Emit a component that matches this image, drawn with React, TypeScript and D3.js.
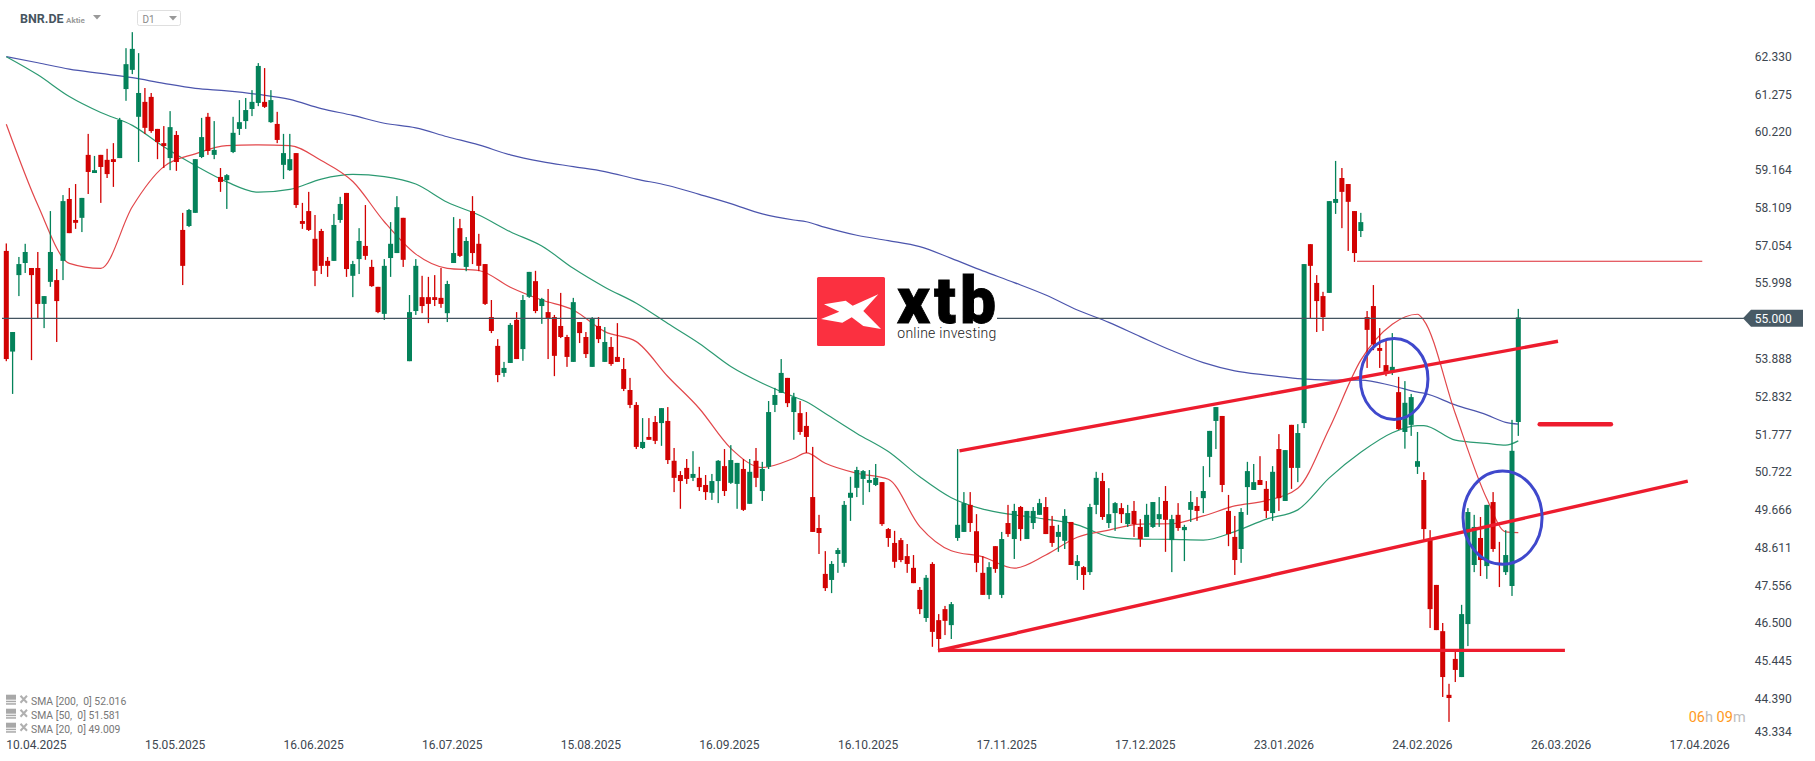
import { useEffect, useRef } from 'react';
import * as d3 from 'd3';

const width = 1815;
const height = 761;

const opens = [
  56.87,54.04,56.19,56.53,56.39,56.39,55.38,56.00,56.05,56.59,
  58.33,57.74,57.80,59.57,59.06,59.57,59.43,59.45,59.48,61.42,
  61.96,60.64,61.06,61.20,60.30,59.90,59.48,60.13,57.46,57.57,
  57.94,59.51,60.64,59.57,58.95,58.86,59.65,60.30,60.52,60.86,
  61.03,61.06,60.49,60.44,59.29,59.14,59.62,57.71,57.99,57.21,
  57.43,56.59,56.59,57.74,58.50,56.17,56.64,57.01,56.42,55.86,
  55.10,56.67,56.81,57.80,53.77,55.18,55.57,55.57,55.57,55.55,
  55.12,56.53,57.51,56.42,57.99,57.07,56.50,55.01,54.20,53.44,
  53.72,54.93,54.11,55.58,56.02,55.32,55.15,55.01,54.76,54.45,
  53.75,54.87,54.45,53.61,54.76,53.75,54.17,53.89,53.55,52.96,
  52.54,51.33,51.64,52.06,52.03,52.09,50.97,50.57,50.77,50.49,
  50.49,50.29,50.07,50.40,50.82,50.35,50.32,50.74,49.76,50.97,
  50.12,50.80,52.54,52.88,53.30,52.34,52.31,51.95,49.95,49.08,
  47.79,47.62,48.35,48.10,49.93,50.21,50.46,50.35,50.29,50.37,
  49.05,48.66,48.74,48.29,47.96,47.34,46.55,48.07,46.49,46.80,
  46.35,48.80,48.97,49.73,48.99,47.82,47.20,48.57,47.20,49.22,
  48.77,49.67,48.77,49.22,49.45,49.67,49.14,48.83,48.72,49.25,
  48.01,47.98,47.84,49.73,50.40,49.22,49.50,49.64,49.19,49.56,
  49.11,48.83,49.11,49.33,49.84,48.74,49.45,49.02,49.59,49.70,
  49.92,51.08,52.09,52.23,49.56,48.83,48.49,50.23,50.15,50.43,
  50.18,49.50,51.30,49.84,51.98,50.77,52.03,57.06,55.97,55.60,
  55.69,58.22,58.92,58.75,57.99,57.43,55.01,55.32,54.14,53.66,
  53.49,52.90,51.78,51.98,50.80,50.43,48.74,47.48,46.18,44.39,
  45.40,44.89,46.38,48.04,48.80,48.01,49.81,48.10,47.84,47.45,
  52.06,
];

const closes = [
  53.83,54.59,56.50,56.84,56.19,55.38,55.60,56.84,55.46,58.27,
  57.37,57.66,58.36,59.09,59.14,59.23,59.03,59.37,60.55,62.12,
  62.55,61.31,60.33,60.24,59.93,59.82,60.35,59.37,56.45,58.02,
  59.45,60.07,59.68,59.71,58.81,59.00,60.19,60.49,60.83,61.06,
  62.07,60.92,61.11,59.99,59.62,59.45,58.16,57.63,57.46,56.31,
  56.45,56.45,57.60,58.19,56.36,56.50,57.15,56.73,55.88,55.15,
  56.45,57.07,58.10,56.62,55.15,56.45,55.32,55.38,55.49,55.38,
  55.94,56.81,56.73,57.15,56.81,56.45,55.38,54.62,53.38,53.58,
  54.79,53.83,55.49,56.28,55.18,55.52,54.98,53.92,54.45,53.89,
  55.43,54.56,53.97,54.98,54.39,54.31,53.69,53.75,52.99,52.54,
  51.36,51.50,51.56,51.53,52.45,50.99,50.49,50.40,50.46,50.60,
  50.23,50.09,50.40,50.97,50.12,50.99,50.91,49.59,50.66,50.49,
  50.74,52.34,52.82,53.44,52.59,52.76,51.78,51.64,48.97,48.94,
  47.39,48.07,48.46,49.73,50.07,50.71,50.68,50.43,50.49,49.19,
  48.80,48.13,48.18,48.07,47.53,46.80,47.68,46.16,45.96,46.47,
  46.94,49.17,49.78,49.22,48.10,47.20,47.98,47.93,48.77,48.91,
  49.56,49.05,49.56,49.56,49.78,48.91,48.66,48.97,49.42,48.04,
  48.15,47.76,49.67,50.49,49.39,49.47,49.78,49.47,49.50,49.19,
  48.77,49.45,49.81,49.47,49.31,49.33,49.08,49.11,49.81,49.56,
  50.12,51.81,52.48,50.29,48.91,48.18,49.53,50.68,50.37,50.29,
  49.56,50.66,49.92,51.27,50.77,51.75,56.50,56.45,55.46,55.01,
  58.27,58.33,58.53,58.25,56.81,57.68,54.65,54.25,54.06,53.44,
  53.61,51.86,52.60,52.76,50.96,49.05,46.80,46.21,44.89,44.30,
  45.09,46.66,49.53,49.11,48.18,49.73,48.49,48.04,48.32,51.25,
  55.00,
];

const highs = [
  57.08,54.59,56.70,57.07,56.39,56.84,55.60,57.99,56.36,58.44,
  58.64,58.75,58.36,60.16,59.54,59.57,59.74,59.90,60.61,62.57,
  63.02,62.43,61.45,61.31,60.30,60.38,60.80,60.24,57.94,58.05,
  59.45,60.61,60.75,60.52,59.20,59.03,60.64,61.11,61.17,61.39,
  62.15,62.01,61.39,60.78,60.16,60.16,59.62,58.22,58.53,57.88,
  57.49,56.70,57.91,58.39,58.50,56.59,57.51,58.16,56.62,55.86,
  56.64,57.68,58.41,57.80,55.63,56.64,56.17,56.14,56.19,56.39,
  56.03,57.82,57.77,57.26,58.41,57.35,56.50,55.49,54.39,53.75,
  54.84,55.15,55.63,56.28,56.31,55.55,55.80,55.07,55.69,54.51,
  55.55,54.87,54.59,55.01,55.01,54.73,54.45,54.84,53.86,53.30,
  52.62,52.17,52.17,52.23,52.45,52.48,51.33,50.68,51.02,51.24,
  50.80,50.57,50.60,50.99,51.30,51.41,50.91,51.02,51.02,51.33,
  50.94,52.65,53.02,53.83,53.30,52.88,52.65,52.34,51.36,49.45,
  48.43,48.15,48.52,49.84,50.52,50.80,50.71,50.71,50.88,50.37,
  49.08,49.00,48.80,48.63,48.32,47.42,47.76,48.12,46.66,46.89,
  47.00,51.30,50.09,50.09,49.47,48.29,48.12,48.57,48.97,49.73,
  49.76,49.70,49.56,49.67,49.90,49.95,49.42,49.17,49.61,49.25,
  48.32,48.01,49.76,50.66,50.63,50.20,49.81,49.78,49.73,49.84,
  49.33,49.76,49.81,49.95,50.26,49.45,49.78,49.17,50.12,49.95,
  50.82,51.81,52.48,52.23,50.01,49.42,49.64,50.94,50.88,51.10,
  50.40,50.82,51.72,51.27,51.98,52.00,56.50,57.06,56.19,55.72,
  58.27,59.40,59.20,58.75,57.99,57.94,55.18,55.91,54.70,54.37,
  54.56,53.33,53.21,52.85,51.78,50.65,49.02,47.48,46.41,44.70,
  45.65,46.92,49.64,49.45,49.39,49.73,50.09,48.69,49.02,52.12,
  55.24,
];

const lows = [
  53.77,52.85,55.60,56.25,53.80,54.97,54.70,55.86,54.31,56.05,
  57.37,57.49,57.40,58.47,59.06,58.22,58.92,58.67,59.48,61.09,
  61.84,59.37,60.16,60.19,59.45,59.20,59.14,59.12,55.91,57.54,
  57.94,59.48,59.57,59.45,58.53,58.05,59.62,60.13,60.30,60.66,
  60.94,60.89,60.47,59.90,58.89,59.12,58.08,57.49,57.43,55.88,
  56.22,56.14,56.59,57.66,56.14,55.57,56.22,56.62,55.86,55.12,
  54.93,56.14,56.81,56.42,53.77,55.07,55.12,54.84,55.32,55.27,
  54.87,56.53,56.70,56.30,56.50,56.30,55.35,54.56,53.18,53.33,
  53.72,53.83,53.78,55.55,55.12,54.82,53.83,53.35,54.42,53.61,
  53.75,54.28,53.86,53.61,54.28,53.75,53.64,53.75,52.93,52.45,
  51.30,51.30,51.56,51.44,51.39,50.88,50.09,49.62,50.32,50.40,
  50.12,49.87,49.87,49.78,49.98,50.32,49.62,49.56,49.76,50.23,
  49.84,50.74,52.34,52.88,52.48,51.56,51.70,51.19,48.97,48.35,
  47.31,47.25,47.82,47.99,49.28,49.95,49.73,50.09,50.26,49.14,
  48.55,47.96,48.12,47.82,47.53,46.66,46.44,45.74,45.65,46.07,
  45.96,48.72,48.97,48.97,47.84,47.20,47.08,47.82,47.11,48.83,
  48.21,48.72,48.77,49.05,49.45,48.91,48.55,48.41,48.49,48.04,
  47.62,47.34,47.76,49.47,49.31,49.08,49.00,49.22,49.11,48.83,
  48.55,48.83,49.08,49.11,48.41,47.84,49.00,48.15,49.25,49.28,
  49.50,50.51,51.30,50.09,48.57,47.76,48.10,49.45,50.15,50.29,
  49.36,49.28,49.56,49.84,50.18,50.37,51.89,54.98,54.59,54.62,
  55.69,57.91,57.51,56.87,56.56,57.26,53.58,54.08,53.58,53.35,
  53.38,51.84,51.31,51.67,50.60,48.74,46.27,46.21,44.33,43.63,
  44.75,44.89,45.76,47.84,47.73,47.65,48.41,47.42,47.76,47.17,
  51.67,
];

const smaIndex = [
  0,5,10,15,20,25,30,35,40,45,50,55,60,65,70,75,80,85,90,95,100,105,110,115,120,125,127,
  130,135,140,145,150,155,160,165,170,175,180,185,190,195,200,205,210,215,220,224,225,230,235,238,240,
];
const sma200 = [
  62.33,62.16,61.98,61.86,61.74,61.58,61.44,61.37,61.27,61.13,60.87,60.68,60.46,60.33,60.08,59.85,59.57,59.38,59.24,59.10,58.89,58.71,58.46,58.20,57.91,57.74,57.69,
  57.53,57.31,57.16,56.99,56.66,56.31,55.98,55.63,55.21,54.86,54.46,54.07,53.73,53.50,53.38,53.28,53.24,53.24,53.08,52.90,52.87,52.54,52.26,52.05,52.00,
];
const sma50 = [
  62.33,61.82,61.21,60.76,60.40,59.80,59.27,58.81,58.52,58.60,58.89,59.02,58.96,58.75,58.24,57.88,57.41,57.01,56.38,55.85,55.40,54.83,54.27,53.62,53.15,52.77,52.63,
  52.30,51.74,51.23,50.52,49.93,49.61,49.45,49.33,49.17,48.84,48.77,48.76,48.74,48.98,49.33,49.59,50.49,51.21,51.76,51.96,51.96,51.55,51.46,51.41,51.53,
];
const sma20 = [
  60.43,58.16,56.52,56.38,58.11,59.24,59.60,59.83,59.85,59.83,59.41,58.82,57.69,56.78,56.38,56.32,55.85,55.49,55.21,54.60,54.32,53.34,52.44,51.32,50.78,51.04,51.19,
  50.90,50.62,50.45,49.12,48.44,48.27,47.95,48.32,48.82,49.02,49.19,49.20,49.42,49.70,49.85,50.20,51.88,53.80,54.81,55.09,54.92,52.30,49.90,48.97,48.95,
];

const priceTicks = [
  '62.330','61.275','60.220','59.164','58.109','57.054','55.998','53.888','52.832','51.777',
  '50.722','49.666','48.611','47.556','46.500','45.445','44.390','43.334',
];
const dateLabels = [
  '10.04.2025','15.05.2025','16.06.2025','16.07.2025','15.08.2025','16.09.2025','16.10.2025',
  '17.11.2025','17.12.2025','23.01.2026','24.02.2026','26.03.2026','17.04.2026',
];
const legendRows = ['SMA [200,  0] 52.016', 'SMA [50,  0] 51.581', 'SMA [20,  0] 49.009'];
const lastPriceLabel = '55.000';
const lastPriceLevel = 54.975;

// hand drawn analysis lines: candle number and price at each end
const thickSegments: [number, number, number, number][] = [
  [151.3, 51.25, 246.3, 54.33],
  [147.9, 45.63, 266.9, 50.40],
  [147.9, 45.64, 247.4, 45.64],
];
const thinSegment = [214.4, 56.58, 269.2, 56.58];
const shortMark = [243.4, 52.0, 254.7, 52.0];
// candle, price, radius in candles, radius in price
const ellipses = [
  [220.3, 53.27, 5.36, 1.14],
  [237.5, 49.37, 6.27, 1.31],
];

const font = 'Roboto, sans-serif';
const green = '#04825a';
const red = '#d20202';

const App = () => {
  const svgRef = useRef<SVGSVGElement>(null);

  useEffect(() => {
    if (!svgRef.current) return;
    const svg = d3.select(svgRef.current);
    svg.selectAll('*').remove();

    const x = d3.scaleLinear().domain([0, 240]).range([6.3, 1518.3]);
    const y = d3.scaleLinear().domain([62.33, 43.334]).range([56.7, 732.4]);
    // axis labels are spaced a bit wider than the plot and the lowest one is pinned
    const labelY = d3.scaleLinear().domain([62.33, 44.39]).range([56.7, 698.7]);

    // Moving averages sit under the candles
    const smaLine = d3.line<number>()
      .x((_, i) => x(smaIndex[i]))
      .y(d => y(d))
      .curve(d3.curveMonotoneX);
    [[sma200, '#4c55ad'], [sma50, '#2c9a72'], [sma20, '#e2474b']].forEach(([values, color]) => {
      svg.append('path')
        .attr('d', smaLine(values as number[]))
        .attr('fill', 'none')
        .attr('stroke', color as string)
        .attr('stroke-width', 1.2);
    });

    // Candles
    const candles = svg.append('g');
    candles.selectAll('rect.wick')
      .data(opens)
      .join('rect')
      .attr('class', 'wick')
      .attr('x', (_, i) => x(i) - 0.65)
      .attr('width', 1.3)
      .attr('y', (_, i) => y(highs[i]))
      .attr('height', (_, i) => y(lows[i]) - y(highs[i]))
      .attr('fill', (d, i) => (closes[i] >= d ? green : red));
    candles.selectAll('rect.body')
      .data(opens)
      .join('rect')
      .attr('class', 'body')
      .attr('x', (_, i) => x(i) - 2.5)
      .attr('width', 5)
      .attr('y', (d, i) => y(Math.max(d, closes[i])))
      .attr('height', (d, i) => Math.max(1, Math.abs(y(d) - y(closes[i]))))
      .attr('fill', (d, i) => (closes[i] >= d ? green : red));

    // Last price line
    const tagY = y(lastPriceLevel);
    svg.append('line')
      .attr('x1', 2)
      .attr('x2', 1745)
      .attr('y1', tagY)
      .attr('y2', tagY)
      .attr('stroke', '#435460')
      .attr('stroke-width', 1.2);

    // Drawn lines
    thickSegments.forEach(s => {
      svg.append('line')
        .attr('x1', x(s[0]))
        .attr('y1', y(s[1]))
        .attr('x2', x(s[2]))
        .attr('y2', y(s[3]))
        .attr('stroke', '#ed1c2e')
        .attr('stroke-width', 3.4);
    });
    svg.append('line')
      .attr('x1', x(thinSegment[0]))
      .attr('y1', y(thinSegment[1]))
      .attr('x2', x(thinSegment[2]))
      .attr('y2', y(thinSegment[3]))
      .attr('stroke', '#dc2a33')
      .attr('stroke-width', 1.2);
    svg.append('line')
      .attr('x1', x(shortMark[0]))
      .attr('y1', y(shortMark[1]))
      .attr('x2', x(shortMark[2]))
      .attr('y2', y(shortMark[3]))
      .attr('stroke', '#ed1c2e')
      .attr('stroke-width', 4.5)
      .attr('stroke-linecap', 'round');
    ellipses.forEach(e => {
      svg.append('ellipse')
        .attr('cx', x(e[0]))
        .attr('cy', y(e[1]))
        .attr('rx', x(e[2]) - x(0))
        .attr('ry', y(0) - y(e[3]))
        .attr('fill', 'none')
        .attr('stroke', '#3f48cc')
        .attr('stroke-width', 3);
    });

    // Price axis
    svg.append('g')
      .selectAll('text')
      .data(priceTicks)
      .join('text')
      .attr('x', 1791.7)
      .attr('y', d => Math.min(labelY(+d), 731.7))
      .attr('dy', '0.35em')
      .attr('text-anchor', 'end')
      .style('font-family', font)
      .style('font-size', '12px')
      .style('fill', '#3c4650')
      .text(d => d);

    svg.append('polygon')
      .attr('points', `1743,${tagY} 1751,${tagY - 8.5} 1803,${tagY - 8.5} 1803,${tagY + 8.5} 1751,${tagY + 8.5}`)
      .attr('fill', '#485a65');
    svg.append('text')
      .attr('x', 1791.7)
      .attr('y', tagY)
      .attr('dy', '0.42em')
      .attr('text-anchor', 'end')
      .style('font-family', font)
      .style('font-size', '12px')
      .style('fill', '#fff')
      .text(lastPriceLabel);

    // Date axis, one label every 22 candles
    svg.append('g')
      .selectAll('text')
      .data(dateLabels)
      .join('text')
      .attr('x', (_, i) => x(i * 22))
      .attr('y', 748.5)
      .style('font-family', font)
      .style('font-size', '12px')
      .style('fill', '#3c4650')
      .text(d => d);

    // Indicator legend
    const legend = svg.append('g');
    legendRows.forEach((row, i) => {
      const rowY = 701.7 + i * 14;
      const g = legend.append('g').attr('transform', `translate(0,${rowY})`);
      g.append('rect').attr('x', 6).attr('y', -7).attr('width', 10).attr('height', 5).attr('fill', '#a8a8a8');
      g.append('rect').attr('x', 6).attr('y', -1).attr('width', 10).attr('height', 1.5).attr('fill', '#a8a8a8');
      g.append('rect').attr('x', 6).attr('y', 1.5).attr('width', 10).attr('height', 1.5).attr('fill', '#a8a8a8');
      g.append('path')
        .attr('d', 'M20.5,-6 L27,1 M27,-6 L20.5,1')
        .attr('stroke', '#b0b0b0')
        .attr('stroke-width', 2);
      g.append('text')
        .attr('x', 31)
        .attr('y', 3.5)
        .attr('xml:space', 'preserve')
        .style('white-space', 'pre')
        .style('font-family', font)
        .style('font-size', '10.4px')
        .style('fill', '#777')
        .text(row);
    });

    // Countdown
    const countdown = svg.append('text')
      .attr('x', 1688.7)
      .attr('y', 721.5)
      .style('font-family', font)
      .style('font-size', '14.5px');
    [['06', '#ff9a1e'], ['h ', '#bdbdbd'], ['09', '#ff9a1e'], ['m', '#bdbdbd']].forEach(([t, c]) => {
      countdown.append('tspan').attr('fill', c).attr('xml:space', 'preserve').style('white-space', 'pre').text(t);
    });

    // Symbol header
    svg.append('text')
      .attr('x', 20)
      .attr('y', 23)
      .style('font-family', font)
      .style('font-size', '12.5px')
      .style('font-weight', 700)
      .style('fill', '#47555f')
      .text('BNR.DE');
    svg.append('text')
      .attr('x', 66)
      .attr('y', 22.5)
      .style('font-family', font)
      .style('font-size', '8px')
      .style('font-weight', 700)
      .style('fill', '#9a9a9a')
      .text('Aktie');
    svg.append('polygon').attr('points', '93,15 101,15 97,19.5').attr('fill', '#999');
    svg.append('rect')
      .attr('x', 137.5)
      .attr('y', 10.5)
      .attr('width', 43)
      .attr('height', 15)
      .attr('rx', 2)
      .attr('fill', '#fff')
      .attr('stroke', '#dfdfdf');
    svg.append('text')
      .attr('x', 142.5)
      .attr('y', 23)
      .style('font-family', font)
      .style('font-size', '10px')
      .style('fill', '#8a8a8a')
      .text('D1');
    svg.append('polygon').attr('points', '169,16 177,16 173,20.5').attr('fill', '#999');

    // Broker logo
    const logo = svg.append('g');
    logo.append('rect').attr('x', 817).attr('y', 277).attr('width', 180).attr('height', 69).attr('fill', '#fff');
    logo.append('rect').attr('x', 817).attr('y', 277).attr('width', 68).attr('height', 69).attr('rx', 1.5).attr('fill', '#fb3040');
    logo.append('polygon')
      .attr('points', '824,304.3 845.7,300.7 852.7,305.7 878.3,294.3 863.3,311 881,329 863.3,326 851.7,317.3 842.3,322.7 821,319 839.3,311.7')
      .attr('fill', '#fff');
    logo.append('text')
      .attr('x', 897)
      .attr('y', 322.7)
      .style('font-family', font)
      .style('font-size', '64px')
      .style('font-weight', 900)
      .style('stroke', '#000')
      .style('stroke-width', '0.8px')
      .style('letter-spacing', '4px')
      .style('fill', '#000')
      .text('xtb');
    logo.append('text')
      .attr('x', 897.3)
      .attr('y', 338.3)
      .attr('textLength', 99)
      .style('font-family', font)
      .style('font-size', '14px')
      .style('font-weight', 300)
      .style('fill', '#222')
      .text('online investing');
  }, []);

  return (
    <svg
      ref={svgRef}
      width={width}
      height={height}
      style={{ position: 'absolute', left: 0, top: 0, background: '#fff' }}
    />
  );
};

export default App;
